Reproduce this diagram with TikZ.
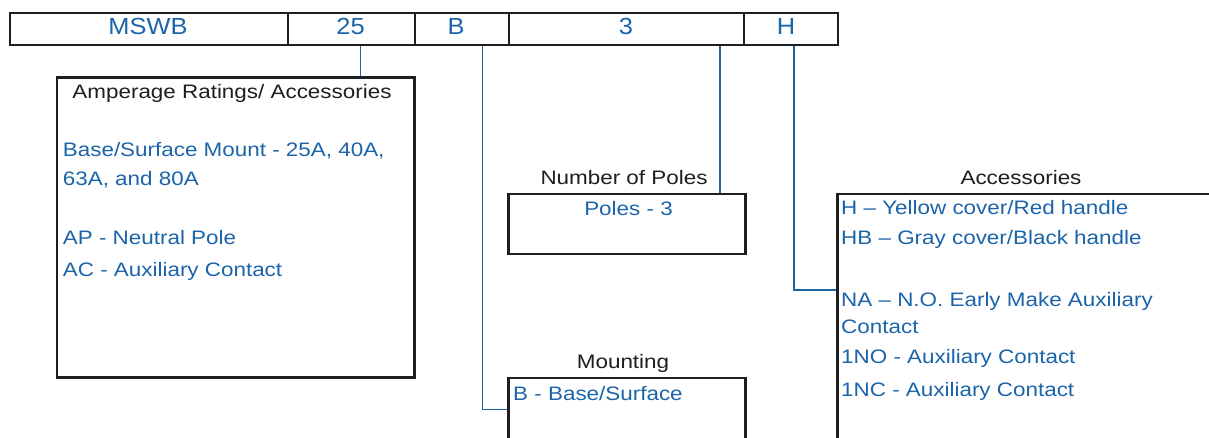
\documentclass[tikz,border=0pt]{standalone}
\usepackage{fontspec}
\setmainfont{Liberation Sans}[FakeStretch=1.15]
\newfontfamily\topfont{Liberation Sans}[FakeStretch=1.09]
\usetikzlibrary{calc}
\definecolor{codeblue}{RGB}{28,100,170}
\definecolor{labgray}{RGB}{30,30,30}
\begin{document}
\begin{tikzpicture}[x=1pt,y=-1pt,
  cell/.style={draw=labgray,line width=2pt,minimum height=32.3pt,inner sep=0pt,
    text=codeblue,font=\topfont\fontsize{23.3}{26}\selectfont,anchor=north west},
  box/.style={draw=labgray,line width=2.7pt,inner sep=0pt,anchor=north west},
  item/.style={inner sep=0pt,anchor=base west,text=codeblue,font=\fontsize{19.5}{23}\selectfont},
  head/.style={inner sep=0pt,anchor=base,text=labgray,font=\fontsize{19.5}{23}\selectfont},
  conn/.style={draw=codeblue,line width=1.5pt}]
\clip (0,0) rectangle (1209,438);
\fill[white] (0,0) rectangle (1209,438);
% top code bar
\node[cell,minimum width=277.7pt] (cM) at (9,11.7) {};
\node[cell,minimum width=127.3pt] (c25) at (286.7,11.7) {};
\node[cell,minimum width=94.3pt] (cB) at (414,11.7) {};
\node[cell,minimum width=235pt] (c3) at (508.3,11.7) {};
\node[cell,minimum width=93.4pt] (cH) at (743.3,11.7) {};
\node[inner sep=0pt,anchor=base,text=codeblue,font=\topfont\fontsize{23.3}{26}\selectfont] (tM) at (148,35) {MSWB};
\node[inner sep=0pt,anchor=base,text=codeblue,font=\topfont\fontsize{23.3}{26}\selectfont] (t25) at (350.5,35) {25};
\node[inner sep=0pt,anchor=base,text=codeblue,font=\topfont\fontsize{23.3}{26}\selectfont] (tB) at (456,35) {B};
\node[inner sep=0pt,anchor=base,text=codeblue,font=\topfont\fontsize{23.3}{26}\selectfont] (t3) at (626,35) {3};
\node[inner sep=0pt,anchor=base,text=codeblue,font=\topfont\fontsize{23.3}{26}\selectfont] (tH) at (786,35) {H};
% boxes
\node[box,minimum width=357.3pt,minimum height=300pt] (amp) at (55.7,76) {};
\node[box,minimum width=236.7pt,minimum height=60pt] (pol) at (507.3,192.7) {};
\node[box,minimum width=236.7pt,minimum height=62.6pt] (mnt) at (507.3,376.7) {};
\node[box,minimum width=400pt,minimum height=300pt] (acc) at (836,192.7) {};
% amperage box texts
\node[head] (hamp) at (232,99) {Amperage Ratings/ Accessories};
\node[item] (a1) at (62.7,156.7) {Base/Surface Mount - 25A, 40A,};
\node[item] (a2) at (62.7,186) {63A, and 80A};
\node[item] (a3) at (62.7,245) {AP - Neutral Pole};
\node[item] (a4) at (62.7,276.7) {AC - Auxiliary Contact};
% poles
\node[head] (hpol) at (624,185) {Number of Poles};
\node[head,text=codeblue] (p1) at (628.5,215.7) {Poles - 3};
% mounting
\node[head] (hmnt) at (623,368) {Mounting};
\node[item] (m1) at (513,400.7) {B - Base/Surface};
% accessories
\node[head] (hacc) at (1021,185) {Accessories};
\node[item] (x1) at (841,215) {H – Yellow cover/Red handle};
\node[item] (x2) at (841,245) {HB – Gray cover/Black handle};
\node[item] (x3) at (841,306.7) {NA – N.O. Early Make Auxiliary};
\node[item] (x4) at (841,333.3) {Contact};
\node[item] (x5) at (841,363.3) {1NO - Auxiliary Contact};
\node[item] (x6) at (841,396.7) {1NC - Auxiliary Contact};
% connectors
\coordinate (s25) at ($(c25.south west)+(74,0)$);
\draw[conn] (s25) -- (s25 |- amp.north);
\coordinate (sB) at ($(cB.south west)+(68.7,0)$);
\draw[conn] (sB) |- (mnt.west);
\coordinate (s3) at ($(c3.south west)+(211.7,0)$);
\draw[conn] (s3) -- (s3 |- pol.north);
\coordinate (sH) at ($(cH.south west)+(50.7,0)$);
\coordinate (hj) at ($(acc.north west)+(0,97.3)$);
\draw[conn] (sH) |- (hj);
\end{tikzpicture}
\end{document}
